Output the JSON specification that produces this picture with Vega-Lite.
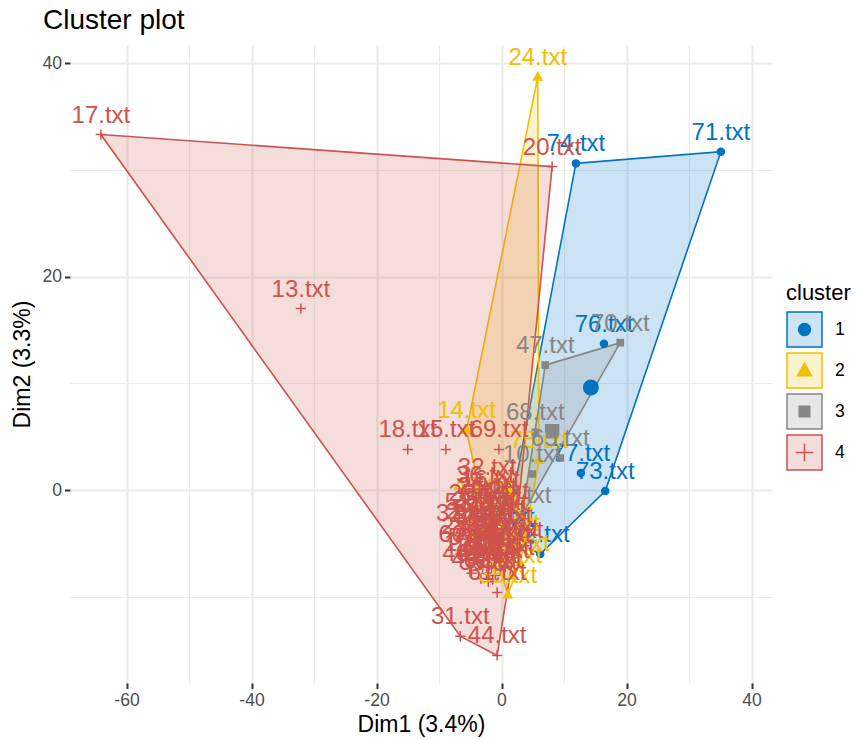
{
  "$schema": "https://vega.github.io/schema/vega-lite/v6.json",
  "width": 702,
  "height": 638,
  "autosize": {"type": "none"},
  "padding": {"left": 70, "top": 45, "right": 83, "bottom": 57},
  "background": "white",
  "config": {"view": {"stroke": null}, "font": "Liberation Sans"},
  "title": {
    "text": "Cluster plot",
    "anchor": "start",
    "frame": "group",
    "dx": -27,
    "offset": 10,
    "fontSize": 28,
    "fontWeight": "normal",
    "font": "Liberation Sans",
    "color": "black"
  },
  "datasets": {
    "points": [
      {"name": "71.txt", "x": 35.1, "y": 31.7, "cluster": "1", "hull": 2},
      {"name": "74.txt", "x": 11.9, "y": 30.6, "cluster": "1", "hull": 1},
      {"name": "76.txt", "x": 16.4, "y": 13.7, "cluster": "1"},
      {"name": "77.txt", "x": 12.7, "y": 1.6, "cluster": "1"},
      {"name": "73.txt", "x": 16.6, "y": -0.1, "cluster": "1", "hull": 3},
      {"name": "72.txt", "x": 6.2, "y": -6.0, "cluster": "1", "hull": 4},
      {"name": "78.txt", "x": 0.6, "y": -4.4, "cluster": "1", "hull": 5},

      {"name": "24.txt", "x": 5.8, "y": 38.7, "cluster": "2", "hull": 1},
      {"name": "75.txt", "x": 6.0, "y": 2.8, "cluster": "2", "hull": 2},
      {"name": "38.txt", "x": 3.0, "y": -6.8, "cluster": "2", "hull": 3},
      {"name": "35.txt", "x": 1.0, "y": -9.8, "cluster": "2", "hull": 4},
      {"name": "45.txt", "x": -3.0, "y": -1.5, "cluster": "2", "hull": 5},
      {"name": "14.txt", "x": -5.6, "y": 5.6, "cluster": "2", "hull": 6},
      {"name": "3.txt", "x": 1.5, "y": -4.0, "cluster": "2"},
      {"name": "5.txt", "x": 0.5, "y": -6.5, "cluster": "2"},
      {"name": "8.txt", "x": 2.5, "y": -5.0, "cluster": "2"},
      {"name": "33.txt", "x": -0.5, "y": -3.0, "cluster": "2"},
      {"name": "52.txt", "x": 1.8, "y": -8.0, "cluster": "2"},
      {"name": "58.txt", "x": -1.0, "y": -5.5, "cluster": "2"},

      {"name": "47.txt", "x": 7.0, "y": 11.7, "cluster": "3", "hull": 1},
      {"name": "70.txt", "x": 19.0, "y": 13.8, "cluster": "3", "hull": 2},
      {"name": "67.txt", "x": 3.3, "y": -2.3, "cluster": "3", "hull": 3},
      {"name": "68.txt", "x": 5.4, "y": 5.4, "cluster": "3"},
      {"name": "65.txt", "x": 9.4, "y": 3.0, "cluster": "3"},
      {"name": "10.txt", "x": 4.9, "y": 1.5, "cluster": "3"},

      {"name": "17.txt", "x": -64.1, "y": 33.3, "cluster": "4", "hull": 1},
      {"name": "20.txt", "x": 8.1, "y": 30.3, "cluster": "4", "hull": 2},
      {"name": "27.txt", "x": 2.0, "y": -5.6, "cluster": "4", "hull": 3},
      {"name": "44.txt", "x": -0.7, "y": -15.5, "cluster": "4", "hull": 4},
      {"name": "31.txt", "x": -6.6, "y": -13.7, "cluster": "4", "hull": 5},
      {"name": "13.txt", "x": -32.1, "y": 17.0, "cluster": "4"},
      {"name": "18.txt", "x": -15.0, "y": 3.8, "cluster": "4"},
      {"name": "15.txt", "x": -8.9, "y": 3.8, "cluster": "4"},
      {"name": "69.txt", "x": -0.4, "y": 3.8, "cluster": "4"},
      {"name": "32.txt", "x": -2.3, "y": 0.3, "cluster": "4"},
      {"name": "61.txt", "x": -0.7, "y": -9.6, "cluster": "4"},
      {"name": "1.txt", "x": -1.5, "y": -4.0, "cluster": "4"},
      {"name": "2.txt", "x": -3.5, "y": -1.5, "cluster": "4"},
      {"name": "4.txt", "x": -2.0, "y": -6.5, "cluster": "4"},
      {"name": "6.txt", "x": -1.0, "y": -8.0, "cluster": "4"},
      {"name": "7.txt", "x": -4.0, "y": -5.5, "cluster": "4"},
      {"name": "9.txt", "x": 0.5, "y": -3.0, "cluster": "4"},
      {"name": "11.txt", "x": -2.5, "y": -3.2, "cluster": "4"},
      {"name": "12.txt", "x": -4.5, "y": -6.8, "cluster": "4"},
      {"name": "16.txt", "x": -1.8, "y": -0.8, "cluster": "4"},
      {"name": "19.txt", "x": -3.0, "y": -7.2, "cluster": "4"},
      {"name": "21.txt", "x": -0.5, "y": -5.0, "cluster": "4"},
      {"name": "22.txt", "x": -5.0, "y": -5.2, "cluster": "4"},
      {"name": "23.txt", "x": -2.8, "y": -5.8, "cluster": "4"},
      {"name": "25.txt", "x": -3.8, "y": -2.2, "cluster": "4"},
      {"name": "26.txt", "x": -2.2, "y": -1.5, "cluster": "4"},
      {"name": "28.txt", "x": -3.2, "y": -2.8, "cluster": "4"},
      {"name": "29.txt", "x": -4.2, "y": -3.8, "cluster": "4"},
      {"name": "30.txt", "x": -1.2, "y": -6.8, "cluster": "4"},
      {"name": "34.txt", "x": -0.2, "y": -7.5, "cluster": "4"},
      {"name": "36.txt", "x": -2.6, "y": -0.5, "cluster": "4"},
      {"name": "37.txt", "x": -5.8, "y": -4.0, "cluster": "4"},
      {"name": "39.txt", "x": -1.5, "y": -2.5, "cluster": "4"},
      {"name": "40.txt", "x": -3.6, "y": -4.5, "cluster": "4"},
      {"name": "41.txt", "x": 0.2, "y": -4.2, "cluster": "4"},
      {"name": "42.txt", "x": -2.4, "y": -7.8, "cluster": "4"},
      {"name": "43.txt", "x": -0.8, "y": -3.6, "cluster": "4"},
      {"name": "46.txt", "x": -4.8, "y": -7.8, "cluster": "4"},
      {"name": "48.txt", "x": -1.9, "y": -5.3, "cluster": "4"},
      {"name": "49.txt", "x": -3.3, "y": -8.3, "cluster": "4"},
      {"name": "50.txt", "x": 1.2, "y": -5.4, "cluster": "4"},
      {"name": "51.txt", "x": -0.3, "y": -2.0, "cluster": "4"},
      {"name": "53.txt", "x": -4.4, "y": -3.0, "cluster": "4"},
      {"name": "54.txt", "x": -2.9, "y": -4.3, "cluster": "4"},
      {"name": "55.txt", "x": -1.1, "y": -5.9, "cluster": "4"},
      {"name": "56.txt", "x": 0.6, "y": -7.2, "cluster": "4"},
      {"name": "57.txt", "x": -3.9, "y": -6.3, "cluster": "4"},
      {"name": "59.txt", "x": -2.1, "y": -8.6, "cluster": "4"},
      {"name": "60.txt", "x": -5.4, "y": -6.0, "cluster": "4"},
      {"name": "62.txt", "x": -1.4, "y": -8.4, "cluster": "4"},
      {"name": "63.txt", "x": -1.6, "y": -7.3, "cluster": "4"},
      {"name": "64.txt", "x": -3.0, "y": -3.6, "cluster": "4"},
      {"name": "66.txt", "x": 0.1, "y": -6.0, "cluster": "4"}
    ],
    "centers": [
      {"cluster": "1", "x": 14.3, "y": 9.6},
      {"cluster": "2", "x": 1.0, "y": -0.3},
      {"cluster": "3", "x": 8.1, "y": 5.5},
      {"cluster": "4", "x": -3.9, "y": -3.0}
    ]
  },
  "encoding": {
    "x": {
      "field": "x",
      "type": "quantitative",
      "title": "Dim1 (3.4%)",
      "scale": {"domain": [-69.04, 43.28], "nice": false, "zero": false},
      "axis": {
        "values": [-60, -50, -40, -30, -20, -10, 0, 10, 20, 30, 40],
        "labelExpr": "datum.value % 20 === 0 ? '' + datum.value : ''",
        "domain": false,
        "grid": true,
        "gridColor": "#EBEBEB",
        "gridWidth": {"condition": {"test": "datum.value % 20 === 0", "value": 2.2}, "value": 1.1},
        "tickOpacity": {"condition": {"test": "datum.value % 20 === 0", "value": 1}, "value": 0},
        "tickColor": "#333333",
        "tickSize": 5.5,
        "tickWidth": 2,
        "labelFont": "Liberation Sans",
        "labelFontSize": 17.6,
        "labelColor": "#4D4D4D",
        "labelPadding": 3,
        "labelFlush": false,
        "labelOverlap": false,
        "titleFont": "Liberation Sans",
        "titleFontSize": 23,
        "titleFontWeight": "normal",
        "titleColor": "black",
        "titlePadding": 4
      }
    },
    "y": {
      "field": "y",
      "type": "quantitative",
      "title": "Dim2 (3.3%)",
      "scale": {"domain": [-18.08, 41.69], "nice": false, "zero": false},
      "axis": {
        "values": [-10, 0, 10, 20, 30, 40],
        "labelExpr": "datum.value % 20 === 0 ? '' + datum.value : ''",
        "domain": false,
        "grid": true,
        "gridColor": "#EBEBEB",
        "gridWidth": {"condition": {"test": "datum.value % 20 === 0", "value": 2.2}, "value": 1.1},
        "tickOpacity": {"condition": {"test": "datum.value % 20 === 0", "value": 1}, "value": 0},
        "tickColor": "#333333",
        "tickSize": 5.5,
        "tickWidth": 2,
        "labelFont": "Liberation Sans",
        "labelFontSize": 17.6,
        "labelColor": "#4D4D4D",
        "labelPadding": 3,
        "labelFlush": false,
        "labelOverlap": false,
        "titleFont": "Liberation Sans",
        "titleFontSize": 23,
        "titleFontWeight": "normal",
        "titleColor": "black",
        "titlePadding": 7
      }
    }
  },
  "layer": [
    {
      "data": {"name": "points"},
      "transform": [{"filter": "isValid(datum.hull)"}],
      "mark": {"type": "line", "interpolate": "linear-closed", "fillOpacity": 0.2, "strokeWidth": 1.6},
      "encoding": {
        "order": {"field": "hull", "type": "quantitative"},
        "fill": {
          "field": "cluster", "type": "nominal",
          "scale": {"domain": ["1", "2", "3", "4"], "range": ["#0073C2", "#EFC000", "#868686", "#CD534C"]},
          "legend": {
            "title": "cluster", "orient": "none", "legendX": 716, "legendY": 238, "zindex": 1,
            "symbolType": "square", "symbolSize": 1225, "symbolStrokeWidth": 1.5,
            "titleFont": "Liberation Sans", "titleFontSize": 22, "titleFontWeight": "normal", "titleColor": "black", "titlePadding": 6,
            "labelFont": "Liberation Sans", "labelFontSize": 17.6, "labelColor": "black", "labelOffset": 12,
            "rowPadding": 0, "padding": 0,
            "encode": {"symbols": {"update": {"fillOpacity": {"value": 0.2}, "strokeWidth": {"value": 1.5}}}}
          }
        },
        "stroke": {
          "field": "cluster", "type": "nominal",
          "scale": {"domain": ["1", "2", "3", "4"], "range": ["#0073C2", "#EFC000", "#868686", "#CD534C"]},
          "legend": {
            "title": "cluster", "orient": "none", "legendX": 716, "legendY": 238, "zindex": 1,
            "symbolType": "square", "symbolSize": 1225, "symbolStrokeWidth": 1.5,
            "titleFont": "Liberation Sans", "titleFontSize": 22, "titleFontWeight": "normal", "titleColor": "black", "titlePadding": 6,
            "labelFont": "Liberation Sans", "labelFontSize": 17.6, "labelColor": "black", "labelOffset": 12,
            "rowPadding": 0, "padding": 0,
            "encode": {"symbols": {"update": {"fillOpacity": {"value": 0.2}, "strokeWidth": {"value": 1.5}}}}
          }
        }
      }
    },
    {
      "data": {"name": "points"},
      "mark": {"type": "point", "filled": true, "opacity": 1, "strokeWidth": 1.5, "size": 424},
      "encoding": {
        "color": {
          "field": "cluster", "type": "nominal",
          "scale": {"domain": ["1", "2", "3", "4"], "range": ["#0073C2", "#EFC000", "#868686", "#CD534C"]},
          "legend": {
            "title": "cluster", "orient": "none", "legendX": 716, "legendY": 238, "zindex": 2,
            "symbolSize": 1225, "symbolStrokeWidth": 1.5,
            "titleFont": "Liberation Sans", "titleFontSize": 22, "titleFontWeight": "normal", "titleOpacity": 0, "titlePadding": 6,
            "labelFont": "Liberation Sans", "labelFontSize": 17.6, "labelOpacity": 0, "labelOffset": 12,
            "rowPadding": 0, "padding": 0
          }
        },
        "stroke": {
          "field": "cluster", "type": "nominal",
          "scale": {"domain": ["1", "2", "3", "4"], "range": ["#0073C2", "#EFC000", "#868686", "#CD534C"]},
          "legend": {
            "title": "cluster", "orient": "none", "legendX": 716, "legendY": 238, "zindex": 2,
            "symbolSize": 1225, "symbolStrokeWidth": 1.5,
            "titleFont": "Liberation Sans", "titleFontSize": 22, "titleFontWeight": "normal", "titleOpacity": 0, "titlePadding": 6,
            "labelFont": "Liberation Sans", "labelFontSize": 17.6, "labelOpacity": 0, "labelOffset": 12,
            "rowPadding": 0, "padding": 0
          }
        },
        "shape": {
          "field": "cluster", "type": "nominal",
          "scale": {
            "domain": ["1", "2", "3", "4"],
            "range": [
              "M-1,-1M1,1M0.34,0A0.34,0.34,0,1,1,-0.34,0A0.34,0.34,0,1,1,0.34,0Z",
              "M-1,-1M1,1M0,-0.42L0.4,0.3L-0.4,0.3Z",
              "M-1,-1M1,1M-0.3,-0.3L0.3,-0.3L0.3,0.3L-0.3,0.3Z",
              "M-1,-1M1,1M-0.5,0L0.5,0M0,-0.5L0,0.5"
            ]
          },
          "legend": {
            "title": "cluster", "orient": "none", "legendX": 716, "legendY": 238, "zindex": 2,
            "symbolSize": 1225, "symbolStrokeWidth": 1.5,
            "titleFont": "Liberation Sans", "titleFontSize": 22, "titleFontWeight": "normal", "titleOpacity": 0, "titlePadding": 6,
            "labelFont": "Liberation Sans", "labelFontSize": 17.6, "labelOpacity": 0, "labelOffset": 12,
            "rowPadding": 0, "padding": 0
          }
        }
      }
    },
    {
      "data": {"name": "centers"},
      "mark": {"type": "point", "filled": true, "opacity": 1, "strokeWidth": 2, "size": 1700},
      "encoding": {
        "color": {
          "field": "cluster", "type": "nominal",
          "scale": {"domain": ["1", "2", "3", "4"], "range": ["#0073C2", "#EFC000", "#868686", "#CD534C"]},
          "legend": null
        },
        "stroke": {
          "field": "cluster", "type": "nominal",
          "scale": {"domain": ["1", "2", "3", "4"], "range": ["#0073C2", "#EFC000", "#868686", "#CD534C"]},
          "legend": null
        },
        "shape": {
          "field": "cluster", "type": "nominal",
          "scale": {
            "domain": ["1", "2", "3", "4"],
            "range": [
              "M-1,-1M1,1M0.34,0A0.34,0.34,0,1,1,-0.34,0A0.34,0.34,0,1,1,0.34,0Z",
              "M-1,-1M1,1M0,-0.42L0.4,0.3L-0.4,0.3Z",
              "M-1,-1M1,1M-0.3,-0.3L0.3,-0.3L0.3,0.3L-0.3,0.3Z",
              "M-1,-1M1,1M-0.5,0L0.5,0M0,-0.5L0,0.5"
            ]
          },
          "legend": null
        }
      }
    },
    {
      "data": {"name": "points"},
      "mark": {"type": "text", "font": "Liberation Sans", "fontSize": 24, "baseline": "alphabetic", "align": "center", "dy": -12},
      "encoding": {
        "text": {"field": "name"},
        "color": {
          "field": "cluster", "type": "nominal",
          "scale": {"domain": ["1", "2", "3", "4"], "range": ["#0073C2", "#EFC000", "#868686", "#CD534C"]},
          "legend": null
        }
      }
    }
  ],
  "resolve": {
    "scale": {"color": "independent", "fill": "independent", "stroke": "independent", "shape": "independent"},
    "legend": {"color": "independent", "fill": "independent", "stroke": "independent", "shape": "independent"}
  }
}
